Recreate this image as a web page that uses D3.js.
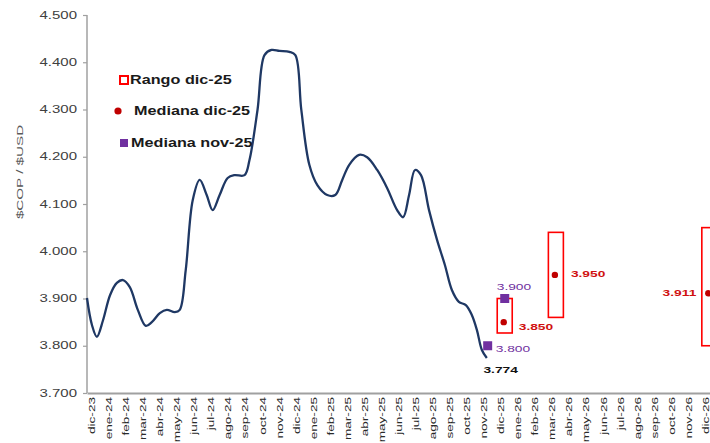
<!DOCTYPE html>
<html><head><meta charset="utf-8">
<script src="https://cdn.jsdelivr.net/npm/d3@7"></script>
<style>body{margin:0;background:#fff}svg{display:block;font-family:"Liberation Sans",Arial,sans-serif}</style>
</head><body><svg id="c" width="710" height="443"></svg>
<script>
const months = ["dic-23","ene-24","feb-24","mar-24","abr-24","may-24","jun-24","jul-24","ago-24","sep-24","oct-24","nov-24",
  "dic-24","ene-25","feb-25","mar-25","abr-25","may-25","jun-25","jul-25","ago-25","sep-25","oct-25","nov-25",
  "dic-25","ene-26","feb-26","mar-26","abr-26","may-26","jun-26","jul-26","ago-26","sep-26","oct-26","nov-26","dic-26"];
const yTicks = [3.7,3.8,3.9,4.0,4.1,4.2,4.3,4.4,4.5];
// observed exchange rate (time in months since start of dic-23)
const lineMonths = [0,0.29,0.58,0.94,1.35,1.75,2.11,2.51,2.98,3.45,3.80,4.27,4.68,5.15,5.44,5.79,6.20,6.61,7.02,7.37,7.78,8.25,8.65,9.24,9.53,10.0,10.41,10.82,11.29,11.87,12.22,12.57,13.04,13.51,14.09,14.56,14.97,15.38,15.96,16.43,17.02,17.60,18.19,18.54,18.89,19.24,19.59,20.06,20.53,20.99,21.40,21.81,22.22,22.57,22.87,23.16,23.45];
const lineValues = [3.901,3.844,3.819,3.854,3.907,3.933,3.939,3.924,3.876,3.842,3.850,3.869,3.876,3.871,3.876,3.960,4.108,4.151,4.119,4.087,4.119,4.155,4.161,4.161,4.193,4.299,4.415,4.426,4.424,4.422,4.415,4.299,4.183,4.140,4.119,4.119,4.151,4.183,4.204,4.199,4.172,4.134,4.087,4.072,4.119,4.172,4.161,4.087,4.024,3.971,3.918,3.893,3.886,3.865,3.833,3.791,3.774];
const lastValue = 3.774;
// survey dic-25
const rangeMonths = ["dic-25","mar-26","dic-26"];
const rangeLow = [3.827,3.860,3.800];
const rangeHigh = [3.900,4.040,4.050];
const medianDic = [3.850,3.950,3.911];
// survey nov-25
const medNovMonths = ["nov-25","dic-25"];
const medianNov = [3.800,3.900];
const legendLabels = ["Rango dic-25","Mediana dic-25","Mediana nov-25"];
const yTitle = "$COP / $USD";

const svg = d3.select("#c");
const x = d3.scaleLinear().domain([0, months.length]).range([87, 87 + 17.05 * months.length]);
const y = d3.scaleLinear().domain([3.7, 4.5]).range([393, 15]);
const cx = m => x(months.indexOf(m) + 0.5);
const fmt = d3.format(".3f");
const RED = "#ff0000", DRED = "#c00000", PURP = "#7030a0", NAVY = "#1f3864";

function stext(g, tx, ty, str, opt) {
  const gg = g.append("g").attr("transform", `translate(${tx},${ty})${opt.rot ? " rotate(" + opt.rot + ")" : ""} scale(${opt.s},1)`);
  gg.append("text").attr("x", 0).attr("y", 0).attr("dy", "0.35em")
    .attr("text-anchor", opt.anchor || "start")
    .attr("font-size", opt.size).attr("font-weight", opt.bold ? "bold" : "normal")
    .attr("fill", opt.fill).text(str);
  return gg;
}

// axes
const yAxis = svg.append("g").attr("transform", "translate(87,0)")
  .call(d3.axisLeft(y).tickValues(yTicks).tickSize(4).tickFormat(""));
yAxis.select(".domain").attr("stroke", "#a0a0a0").attr("stroke-width", 1.5).attr("d", "M0,15V393");
yAxis.selectAll(".tick line").attr("stroke", "#a0a0a0").attr("stroke-width", 1.2);
yTicks.forEach(v => stext(svg, 77, y(v), fmt(v), {s: 1.5, size: 10, fill: "#404040", anchor: "end"}));

const xAxis = svg.append("g").attr("transform", "translate(0,393)")
  .call(d3.axisBottom(x).tickValues([]).tickSizeOuter(0));
xAxis.select(".domain").attr("stroke", "#a0a0a0").attr("stroke-width", 1.8);
months.forEach((m, i) => stext(svg, x(i + 0.5) - 3.5, 397, m, {rot: -90, s: 1.6, size: 8.5, fill: "#2a2a2a", anchor: "end"}));

stext(svg, 20, 172, yTitle, {rot: -90, s: 1.6, size: 9.5, fill: "#595959", anchor: "middle"});

// line
const line = d3.line().x(d => x(d[0])).y(d => y(d[1])).curve(d3.curveCatmullRom.alpha(0.5));
svg.append("path").datum(lineMonths.map((t, i) => [t, lineValues[i]]))
  .attr("d", line).attr("fill", "none").attr("stroke", NAVY).attr("stroke-width", 2.3);

// range boxes
const bw = 15;
svg.selectAll(".box").data(rangeMonths).join("rect").attr("class", "box")
  .attr("x", d => cx(d) - bw / 2).attr("width", bw)
  .attr("y", (d, i) => y(rangeHigh[i])).attr("height", (d, i) => y(rangeLow[i]) - y(rangeHigh[i]))
  .attr("fill", "none").attr("stroke", RED).attr("stroke-width", 1.6);
svg.selectAll(".med").data(rangeMonths).join("circle").attr("class", "med")
  .attr("cx", d => cx(d) - 1).attr("cy", (d, i) => y(medianDic[i])).attr("r", 3.2).attr("fill", DRED);
svg.selectAll(".nov").data(medNovMonths).join("rect").attr("class", "nov")
  .attr("x", d => cx(d) - 4.5).attr("y", (d, i) => y(medianNov[i]) - 4.5).attr("width", 9).attr("height", 9).attr("fill", PURP);

// value labels
const lastM = "nov-25";
stext(svg, cx(lastM) + 13, y(lastValue) + 12, fmt(lastValue), {s: 1.45, size: 9.5, bold: true, fill: "#111", anchor: "middle"});
stext(svg, cx(medNovMonths[0]) + 8, y(medianNov[0]) + 2.5, fmt(medianNov[0]), {s: 1.45, size: 9.5, fill: PURP});
stext(svg, cx(medNovMonths[1]) - 8, y(medianNov[1]) - 12, fmt(medianNov[1]), {s: 1.45, size: 9.5, fill: PURP});
stext(svg, cx(rangeMonths[0]) + 14, y(medianDic[0]) + 5, fmt(medianDic[0]), {s: 1.45, size: 9.5, bold: true, fill: "#d01010"});
stext(svg, cx(rangeMonths[1]) + 15, y(medianDic[1]) - 1, fmt(medianDic[1]), {s: 1.45, size: 9.5, bold: true, fill: "#d01010"});
stext(svg, cx(rangeMonths[2]) - 13, y(medianDic[2]) - 1, fmt(medianDic[2]), {s: 1.45, size: 9.5, bold: true, fill: "#d01010", anchor: "end"});

// legend
const lg = svg.append("g");
lg.append("rect").attr("x", 120).attr("y", 76).attr("width", 8).attr("height", 8).attr("fill", "#fff").attr("stroke", RED).attr("stroke-width", 2);
lg.append("circle").attr("cx", 118).attr("cy", 111).attr("r", 3.6).attr("fill", DRED);
lg.append("rect").attr("x", 120).attr("y", 139).attr("width", 8).attr("height", 8).attr("fill", PURP);
stext(lg, 130, 80, legendLabels[0], {s: 1.35, size: 12, bold: true, fill: "#1a1a1a"});
stext(lg, 134, 111, legendLabels[1], {s: 1.35, size: 12, bold: true, fill: "#1a1a1a"});
stext(lg, 131, 143, legendLabels[2], {s: 1.35, size: 12, bold: true, fill: "#1a1a1a"});
</script></body></html>
